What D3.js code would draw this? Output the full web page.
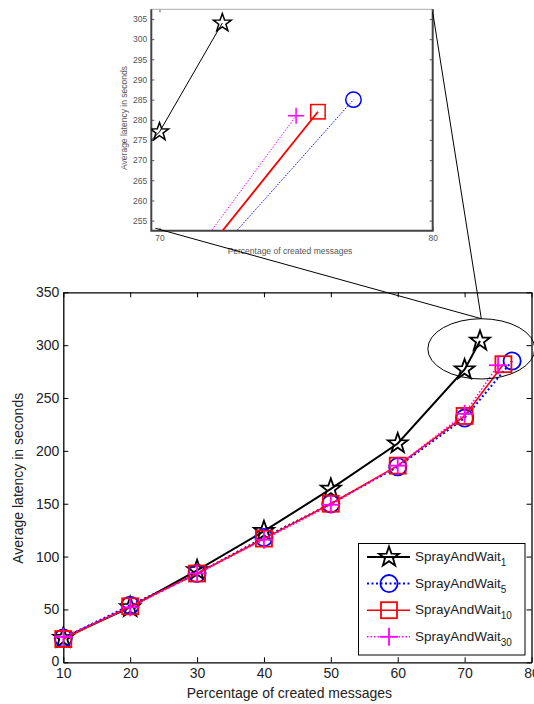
<!DOCTYPE html>
<html>
<head>
<meta charset="utf-8">
<script src="https://cdn.jsdelivr.net/npm/d3@7"></script>
<style>
  html, body { margin: 0; padding: 0; background: #fff; }
  svg { display: block; font-family: "Liberation Sans", Arial, sans-serif; }
</style>
</head>
<body>
<svg id="chart" width="534" height="704"></svg>
<script>
// Percentage of created messages (x) and average latency in seconds (y) per copy count
const xPct1 = [10, 20, 30, 40, 50, 60, 70, 72.3];
const latency1 = [23, 52, 87, 124, 164, 207, 277, 304];
const xPct5 = [10, 20, 30, 40, 50, 60, 70, 77.1];
const latency5 = [23, 54, 84, 118, 150, 185, 231, 285];
const xPct10 = [10, 20, 30, 40, 50, 60, 70, 75.8];
const latency10 = [22, 53, 84, 117, 150, 186, 233, 282];
const xPct30 = [10, 20, 30, 40, 50, 60, 70, 75];
const latency30 = [24, 52, 84, 116, 149, 186, 235, 281];

const seriesNames = ["1", "5", "10", "30"];
const xTicks = [10, 20, 30, 40, 50, 60, 70, 80];
const yTicks = [0, 50, 100, 150, 200, 250, 300, 350];
const insetXTicks = [70, 80];
const insetYTicks = [255, 260, 265, 270, 275, 280, 285, 290, 295, 300, 305];

const series = [
  { name: seriesNames[0], xs: xPct1, ys: latency1, color: "#000", marker: "star", width: 2, dash: null, insetWidth: 1 },
  { name: seriesNames[1], xs: xPct5, ys: latency5, color: "#0000ff", marker: "circle", width: 2, dash: "2,2.5", insetWidth: 1 },
  { name: seriesNames[2], xs: xPct10, ys: latency10, color: "#ff0000", marker: "square", width: 1.6, dash: null, insetWidth: 1.8 },
  { name: seriesNames[3], xs: xPct30, ys: latency30, color: "#ff00ff", marker: "plus", width: 1.6, dash: "1.5,2", insetWidth: 1 }
];
series.forEach(s => { s.points = s.xs.map((x, i) => ({ x, y: s.ys[i] })); });

const svg = d3.select("#chart");
const textColor = "#222";

// Marker shapes (MATLAB-style hollow markers)
function starPath(r) {
  const pts = [];
  for (let i = 0; i < 10; i++) {
    const rr = i % 2 === 0 ? r : r * 0.4;
    const a = -Math.PI / 2 + i * Math.PI / 5;
    pts.push([rr * Math.cos(a), rr * Math.sin(a)]);
  }
  return "M" + pts.map(p => p.join(",")).join("L") + "Z";
}
function drawMarker(g, type, cx, cy, color, scale, sw) {
  const m = g.append("g").attr("transform", `translate(${cx},${cy})`)
    .attr("fill", "none").attr("stroke", color).attr("stroke-width", sw);
  if (type === "star") m.append("path").attr("d", starPath(10.5 * scale));
  else if (type === "circle") m.append("circle").attr("r", 8.6 * scale);
  else if (type === "square") m.append("rect").attr("x", -8 * scale).attr("y", -8 * scale)
    .attr("width", 16 * scale).attr("height", 16 * scale);
  else if (type === "plus") {
    m.append("line").attr("x1", -9 * scale).attr("x2", 9 * scale).attr("y1", 0).attr("y2", 0);
    m.append("line").attr("y1", -9 * scale).attr("y2", 9 * scale).attr("x1", 0).attr("x2", 0);
  }
}

// ---------- Main chart ----------
const main = { left: 63.3, right: 531.5, top: 292.3, bottom: 662.3 };
const x = d3.scaleLinear().domain([10, 80]).range([main.left, main.right]);
const y = d3.scaleLinear().domain([0, 350]).range([main.bottom, main.top]);

const gMain = svg.append("g");

const axisStyle = g => {
  g.select(".domain").attr("stroke", "#000").attr("stroke-width", 1.3);
  g.selectAll(".tick line").attr("stroke", "#000").attr("stroke-width", 1);
  g.selectAll(".tick text").attr("fill", textColor).attr("font-size", 14)
    .attr("font-family", "Liberation Sans, Arial, sans-serif");
};

gMain.append("g").attr("transform", `translate(0,${main.bottom})`)
  .call(d3.axisBottom(x).tickValues(xTicks).tickSize(-5).tickSizeOuter(0).tickPadding(6))
  .call(axisStyle);
gMain.append("g").attr("transform", `translate(0,${main.top})`)
  .call(d3.axisTop(x).tickValues(xTicks).tickSize(-5).tickSizeOuter(0).tickFormat(""))
  .call(axisStyle);
gMain.append("g").attr("transform", `translate(${main.left},0)`)
  .call(d3.axisLeft(y).tickValues(yTicks).tickSize(-5).tickSizeOuter(0).tickPadding(4))
  .call(axisStyle);
gMain.append("g").attr("transform", `translate(${main.right},0)`)
  .call(d3.axisRight(y).tickValues(yTicks).tickSize(-5).tickSizeOuter(0).tickFormat(""))
  .call(axisStyle);

// the zero label sits just above the x tick labels
gMain.selectAll("g.tick").filter(d => d === 0).select("text").attr("dy", "0.2em");

gMain.append("text").attr("x", (main.left + main.right) / 2 - 8).attr("y", 698)
  .attr("text-anchor", "middle").attr("font-size", 14).attr("fill", textColor)
  .text("Percentage of created messages");
gMain.append("text").attr("transform", `translate(23,${(main.top + main.bottom) / 2 + 1}) rotate(-90)`)
  .attr("text-anchor", "middle").attr("font-size", 14).attr("fill", textColor)
  .text("Average latency in seconds");

const line = d3.line().x(d => x(d.x)).y(d => y(d.y));
series.forEach(s => {
  gMain.append("path").datum(s.points).attr("d", line)
    .attr("fill", "none").attr("stroke", s.color).attr("stroke-width", s.width)
    .attr("stroke-dasharray", s.dash);
  s.points.forEach(p => drawMarker(gMain, s.marker, x(p.x), y(p.y), s.color, 1, 1.8));
});

// Zoom ellipse around the highest latencies
const ell = { cx: 72.5, cy: 296.5, rx: 8, ry: 28.5 };
gMain.append("ellipse")
  .attr("cx", x(ell.cx)).attr("cy", y(ell.cy))
  .attr("rx", x(ell.cx + ell.rx) - x(ell.cx)).attr("ry", y(ell.cy) - y(ell.cy + ell.ry))
  .attr("fill", "none").attr("stroke", "#000").attr("stroke-width", 1);

// Legend
const legend = gMain.append("g");
legend.append("rect").attr("x", 358.5).attr("y", 543.5).attr("width", 166.5).attr("height", 111.5)
  .attr("fill", "#fff").attr("stroke", "#000").attr("stroke-width", 1);
series.forEach((s, i) => {
  const ly = 557 + i * 26.6;
  legend.append("line").attr("x1", 367).attr("x2", 410).attr("y1", ly).attr("y2", ly)
    .attr("stroke", s.color).attr("stroke-width", s.width).attr("stroke-dasharray", s.dash);
  drawMarker(legend, s.marker, 389, ly, s.color, 1, 1.8);
  const t = legend.append("text").attr("x", 415).attr("y", ly + 4)
    .attr("font-size", 13.5).attr("fill", textColor);
  t.append("tspan").text("SprayAndWait");
  t.append("tspan").attr("font-size", 10).attr("dy", 5).text(s.name);
});

// ---------- Inset (zoom on 70-80 %) ----------
const inset = { left: 151.3, right: 432.7, top: 9.3, bottom: 230.7 };
const xi = d3.scaleLinear().domain([69.7, 80]).range([inset.left, inset.right]);
const yi = d3.scaleLinear().domain([252.5, 307.4]).range([inset.bottom, inset.top]);

const gIn = svg.append("g");
gIn.append("rect").attr("x", inset.left).attr("y", inset.top)
  .attr("width", inset.right - inset.left).attr("height", inset.bottom - inset.top).attr("fill", "#fff");

svg.append("defs").append("clipPath").attr("id", "insetClip")
  .append("rect").attr("x", inset.left).attr("y", inset.top)
  .attr("width", inset.right - inset.left).attr("height", inset.bottom - inset.top);

const insetAxis = g => {
  g.select(".domain").remove();
  g.selectAll(".tick line").attr("stroke", "#555").attr("stroke-width", 1);
  g.selectAll(".tick text").attr("fill", "#555").attr("font-size", 8.5)
    .attr("font-family", "Liberation Sans, Arial, sans-serif");
};
gIn.append("g").attr("transform", `translate(${inset.left},0)`)
  .call(d3.axisLeft(yi).tickValues(insetYTicks).tickSize(-3).tickPadding(4))
  .call(insetAxis);
gIn.append("g").attr("transform", `translate(${inset.right},0)`)
  .call(d3.axisRight(yi).tickValues(insetYTicks).tickSize(-3).tickFormat(""))
  .call(insetAxis);
gIn.append("g").attr("transform", `translate(0,${inset.bottom})`)
  .call(d3.axisBottom(xi).tickValues(insetXTicks).tickSize(-3).tickPadding(4))
  .call(insetAxis);
gIn.append("g").attr("transform", `translate(0,${inset.top})`)
  .call(d3.axisTop(xi).tickValues(insetXTicks).tickSize(-3).tickFormat(""))
  .call(insetAxis);

// Inset frame: heavy left/bottom/right edges, light top edge
gIn.append("line").attr("x1", inset.left).attr("x2", inset.right).attr("y1", inset.top).attr("y2", inset.top)
  .attr("stroke", "#aaa").attr("stroke-width", 1);
gIn.append("path")
  .attr("d", `M${inset.left},${inset.top}V${inset.bottom}H${inset.right}V${inset.top}`)
  .attr("fill", "none").attr("stroke", "#444").attr("stroke-width", 2);

gIn.append("text").attr("x", 290).attr("y", 253.5).attr("text-anchor", "middle")
  .attr("font-size", 8.5).attr("fill", "#555").text("Percentage of created messages");
gIn.append("text").attr("transform", `translate(127,${(inset.top + inset.bottom) / 2 - 2}) rotate(-90)`)
  .attr("text-anchor", "middle").attr("font-size", 8.5).attr("fill", "#555")
  .text("Average latency in seconds");

const lineIn = d3.line().x(d => xi(d.x)).y(d => yi(d.y));
const gInData = gIn.append("g").attr("clip-path", "url(#insetClip)");
series.forEach(s => {
  gInData.append("path").datum(s.points).attr("d", lineIn)
    .attr("fill", "none").attr("stroke", s.color).attr("stroke-width", s.insetWidth)
    .attr("stroke-dasharray", s.dash ? "1.5,1.5" : null);
});
series.forEach(s => {
  s.points.forEach(p => drawMarker(gInData, s.marker, xi(p.x), yi(p.y), s.color, 0.9, 1.5));
});

// Connector lines from inset corners to the ellipse top
const ellTop = [x(ell.cx), y(ell.cy + ell.ry)];
svg.append("line").attr("x1", xi(69.85)).attr("y1", yi(253.1))
  .attr("x2", ellTop[0]).attr("y2", ellTop[1]).attr("stroke", "#000").attr("stroke-width", 1);
svg.append("line").attr("x1", xi(80)).attr("y1", yi(306.7))
  .attr("x2", ellTop[0]).attr("y2", ellTop[1]).attr("stroke", "#000").attr("stroke-width", 1);
</script>
</body>
</html>
